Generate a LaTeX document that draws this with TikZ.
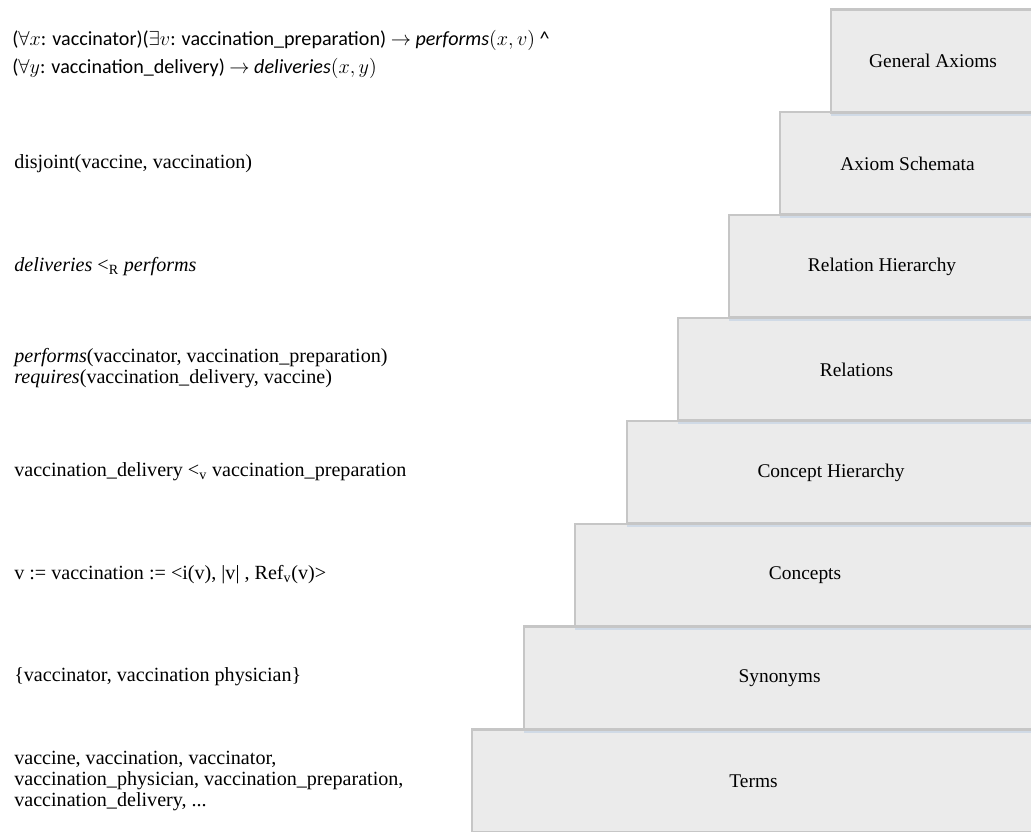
\documentclass[tikz,border=0pt]{standalone}
\usepackage{fontspec}
\setmainfont{Liberation Serif}
\newfontfamily\calibri{Carlito}
\usepackage{tikz}
\usetikzlibrary{positioning,shadows}

\definecolor{stepfill}{RGB}{235,235,235}
\definecolor{stepline}{RGB}{198,198,198}
\definecolor{stepshade}{RGB}{208,218,230}

\begin{document}
\begin{tikzpicture}[x=0.025cm, y=-0.025cm,
		layer/.style={draw=stepline, fill=stepfill, line width = 2pt, anchor=north west, inner sep=0pt, outer sep=0pt,
			minimum height=2.569cm, font=\fontsize{13.8}{16}\selectfont,
			drop shadow={shadow xshift=0pt, shadow yshift=-2.6pt, fill=stepshade, opacity=1}},
		expl/.style={anchor=west, align=left, inner sep=0pt, font=\fontsize{14.3}{14.6}\selectfont}]
	\useasboundingbox (0,0) rectangle (1031,831);
	\clip (0,0) rectangle (1031,831);

	% the steps, lowest first so that every shadow falls on the step below
	\node (terms) at (472,729.5)  [layer, minimum width=14.075cm] {Terms};
	\node (syn) at (524,626.5)   [layer, minimum width=12.775cm] {Synonyms};
	\node (conc) at (575,524)    [layer, minimum width=11.5cm] {Concepts};
	\node (chier) at (627,421)   [layer, minimum width=10.2cm] {Concept Hierarchy};
	\node (rel) at (678,318)     [layer, minimum width=8.925cm] {Relations};
	\node (rhier) at (729,215)   [layer, minimum width=7.65cm] {Relation Hierarchy};
	\node (schem) at (780,112)   [layer, minimum width=6.375cm] {Axiom Schemata};
	\node (gax) at (831,9.5)     [layer, minimum width=5.1cm] {General Axioms};

	% examples next to each step
	\node (gaxtxt) at (12,54) [expl, font=\calibri\fontsize{14.3}{20}\selectfont]
		{($\forall x$: vaccinator)($\exists v$: vaccination\_preparation) $\rightarrow$ \textit{performs}$(x,v)$ \^{}\\
		 ($\forall y$: vaccination\_delivery) $\rightarrow$ \textit{deliveries}$(x,y)$};
	\node (schemtxt) at (14,164) [expl] {disjoint(vaccine, vaccination)};
	\node (rhiertxt) at (14,267) [expl] {\textit{deliveries} <\textsubscript{R} \textit{performs}};
	\node (reltxt) at (14,368) [expl]
		{\textit{performs}(vaccinator, vaccination\_preparation)\\
		 \textit{requires}(vaccination\_delivery, vaccine)};
	\node (chiertxt) at (14,472) [expl] {vaccination\_delivery <\textsubscript{v} vaccination\_preparation};
	\node (conctxt) at (14,575) [expl] {v := vaccination := <i(v), |v| , Ref\textsubscript{v}(v)>};
	\node (syntxt) at (14,677) [expl] {\{vaccinator, vaccination physician\}};
	\node (termstxt) at (14,781) [expl]
		{vaccine, vaccination, vaccinator,\\
		 vaccination\_physician, vaccination\_preparation,\\
		 vaccination\_delivery, ...};
\end{tikzpicture}
\end{document}
